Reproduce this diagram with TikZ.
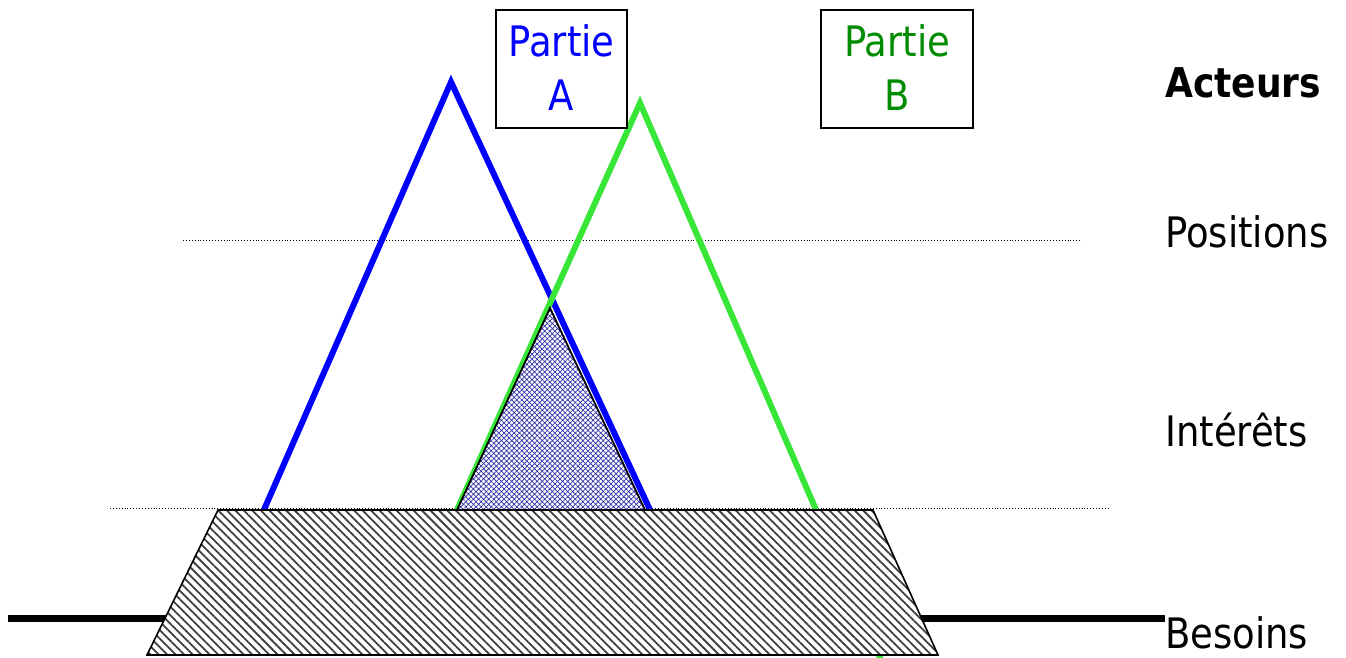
\documentclass[tikz,border=0pt]{standalone}
\usepackage{fontspec}
\setmainfont{DejaVu Sans}[FakeStretch=0.88]
\usetikzlibrary{patterns.meta}
\definecolor{lineblue}{RGB}{0,0,255}
\definecolor{linegreen}{RGB}{56,230,56}
\definecolor{textgreen}{RGB}{0,140,0}
\definecolor{hatchblue}{RGB}{50,50,170}
\tikzset{
  guide/.style={dotted, line width=0.9pt, black},
  leg/.style={line width=6pt, line join=miter},
  partybox/.style={draw=black, line width=2.5pt, fill=white, align=center, inner sep=0pt,
    font=\fontsize{42}{54}\selectfont},
  levellabel/.style={anchor=base west, inner sep=0pt, font=\fontsize{42}{50}\selectfont},
}
\begin{document}
\begin{tikzpicture}[x=1pt,y=-1pt]
\useasboundingbox (0,0) rectangle (1346,657);
% dotted guide lines
\coordinate (p1) at (183,240); \coordinate (p2) at (1082,240);
\coordinate (i1) at (110,508); \coordinate (i2) at (1108,508);
\draw[guide] (p1) -- (p2);
\draw[guide] (i1) -- (i2);
% needs baseline
\coordinate (b1) at (8,618); \coordinate (b2) at (1165,618);
\draw[line width=7pt] (b1) -- (b2);
% blue triangle (Partie A)
\coordinate (aL) at (263,512); \coordinate (aT) at (451,82); \coordinate (aR) at (651,512);
\draw[leg, lineblue] (aL) -- (aT) -- (aR);
% green triangle (Partie B)
\coordinate (bL) at (456,512); \coordinate (bT) at (640,103); \coordinate (bR) at (881,660);
\draw[leg, linegreen] (bL) -- (bT) -- (bR);
% common zone
\coordinate (cL) at (457,510); \coordinate (cT) at (550,308); \coordinate (cR) at (645,510);
\fill[white] (cL) -- (cT) -- (cR) -- cycle;
\fill[pattern={Hatch[angle=45,distance=3.6pt,line width=0.7pt]}, pattern color=hatchblue]
  (cL) -- (cT) -- (cR) -- cycle;
\draw[line width=1.8pt, line join=miter] (cL) -- (cT) -- (cR) -- cycle;
% needs trapezoid
\coordinate (t1) at (218,510); \coordinate (t2) at (873,510);
\coordinate (t3) at (938,655); \coordinate (t4) at (147,655);
\fill[white] (t1) -- (t2) -- (t3) -- (t4) -- cycle;
\fill[pattern={Lines[angle=-45,distance=6pt,line width=1.8pt]}, pattern color=black!75]
  (t1) -- (t2) -- (t3) -- (t4) -- cycle;
\draw[line width=1.6pt] (t1) -- (t2) -- (t3) -- (t4) -- cycle;
% party boxes
\node[partybox, minimum width=131pt, minimum height=118pt, text=lineblue] (boxA) at (561.5,69) {\raisebox{3pt}{Partie}\\\raisebox{3pt}{A}};
\node[partybox, minimum width=152pt, minimum height=118pt, text=textgreen] (boxB) at (897,69) {\raisebox{3pt}{Partie}\\\raisebox{3pt}{B}};
% level labels
\node[levellabel, font=\fontsize{41}{50}\selectfont\bfseries] (acteurs) at (1165,97) {Acteurs};
\node[levellabel] (positions) at (1165,247) {Positions};
\node[levellabel] (interets) at (1165,446) {Intérêts};
\node[levellabel] (besoins) at (1165,648) {Besoins};
\end{tikzpicture}
\end{document}
